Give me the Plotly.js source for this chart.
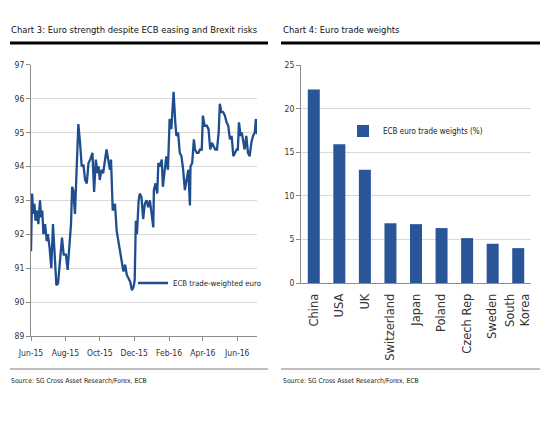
<!DOCTYPE html>
<html>
<head>
<meta charset="utf-8">
<script src="https://cdn.plot.ly/plotly-3.0.1.min.js"></script>
<style>html,body{margin:0;padding:0;background:#fff;}#chart{width:550px;height:423px;}</style>
</head>
<body>
<div id="chart"></div>
<script>
// ---- Chart 3 data: ECB trade-weighted euro ----
const euroDates = [
"2015-06-01","2015-06-03","2015-06-05","2015-06-07","2015-06-09","2015-06-12","2015-06-14","2015-06-17","2015-06-19","2015-06-21",
"2015-06-23","2015-06-26","2015-06-29","2015-07-01","2015-07-04","2015-07-07","2015-07-10","2015-07-13","2015-07-16","2015-07-19",
"2015-07-22","2015-07-26","2015-07-29","2015-08-02","2015-08-05","2015-08-08","2015-08-11","2015-08-13","2015-08-15","2015-08-18",
"2015-08-21","2015-08-24","2015-08-27","2015-08-30","2015-09-02","2015-09-05","2015-09-08","2015-09-11","2015-09-14","2015-09-18",
"2015-09-21","2015-09-24","2015-09-27","2015-09-29","2015-10-01","2015-10-04","2015-10-07","2015-10-10","2015-10-13","2015-10-16",
"2015-10-19","2015-10-21","2015-10-24","2015-10-28","2015-10-31","2015-11-03","2015-11-06","2015-11-09","2015-11-12","2015-11-15",
"2015-11-18","2015-11-21","2015-11-24","2015-11-27","2015-11-30","2015-12-02","2015-12-04","2015-12-06","2015-12-09","2015-12-11",
"2015-12-14","2015-12-17","2015-12-20","2015-12-23","2015-12-26","2015-12-29","2016-01-01","2016-01-04","2016-01-05","2016-01-08",
"2016-01-11","2016-01-13","2016-01-16","2016-01-19","2016-01-21","2016-01-24","2016-01-27","2016-01-30","2016-02-02","2016-02-05",
"2016-02-07","2016-02-09","2016-02-12","2016-02-14","2016-02-17","2016-02-20","2016-02-23","2016-02-26","2016-02-29","2016-03-03",
"2016-03-06","2016-03-09","2016-03-10","2016-03-13","2016-03-16","2016-03-18","2016-03-21","2016-03-24","2016-03-27","2016-03-30",
"2016-04-01","2016-04-04","2016-04-08","2016-04-11","2016-04-14","2016-04-17","2016-04-20","2016-04-23","2016-04-26","2016-04-29",
"2016-05-01","2016-05-04","2016-05-07","2016-05-10","2016-05-13","2016-05-16","2016-05-19","2016-05-22","2016-05-25","2016-05-28",
"2016-05-31","2016-06-02","2016-06-04","2016-06-07","2016-06-09","2016-06-11","2016-06-14","2016-06-17","2016-06-20","2016-06-23",
"2016-06-26","2016-06-29","2016-07-02","2016-07-04","2016-07-06"];
const euroValues = [
91.5,93.2,92.6,92.9,92.4,92.7,92.3,93.0,92.5,92.7,
92.0,92.3,91.8,92.0,91.6,91.0,92.3,91.4,90.5,90.55,
91.1,91.9,91.4,91.4,90.95,91.6,92.3,93.4,93.3,92.6,
93.8,95.25,94.7,94.0,94.05,93.6,93.5,94.1,94.2,94.4,
93.25,94.2,93.8,94.0,93.6,93.9,93.8,94.2,94.5,94.2,
93.9,94.2,92.7,92.9,92.1,91.8,91.5,91.2,90.9,91.1,
90.8,90.7,90.6,90.35,90.45,90.65,92.4,92.0,93.0,93.2,
93.1,92.45,92.9,93.0,92.8,93.0,92.6,92.2,93.3,93.5,
93.2,94.1,94.0,94.2,93.4,93.8,94.3,93.9,95.4,95.1,
95.7,96.2,95.3,94.9,95.0,94.4,94.3,93.9,93.3,93.6,
93.9,92.85,94.0,94.1,94.8,94.5,94.4,94.4,94.5,94.5,
95.5,95.2,95.2,95.1,94.5,94.7,94.6,94.5,94.5,95.0,
95.85,95.6,95.6,95.5,95.3,95.2,94.8,94.9,94.3,94.4,
94.5,94.5,95.3,94.9,95.0,94.8,94.5,94.9,94.4,94.3,
94.7,94.9,95.0,95.4,94.95];

// ---- Chart 4 data: ECB euro trade weights (%) ----
const countries = ["China","USA","UK","Switzerland","Japan","Poland","Czech Rep","Sweden","South<br>Korea"];
const weights = [22.2,15.9,13.0,6.85,6.75,6.3,5.15,4.5,4.0];

const leftTitle = "Chart 3: Euro strength despite ECB easing and Brexit risks";
const rightTitle = "Chart 4: Euro trade weights";
const sourceText = "Source: SG Cross Asset Research/Forex, ECB";

const NARROW = "'Liberation Sans Narrow', 'Arial Narrow', 'DejaVu Sans Condensed', sans-serif";
const WIDE = "'DejaVu Sans', Verdana, sans-serif";
const W = 550, H = 423;
const px = v => v / W;
const py = v => 1 - v / H;

const traces = [
  {
    type: "scatter", mode: "lines",
    x: euroDates, y: euroValues,
    name: "ECB trade-weighted euro",
    line: {color: "#1f4e8f", width: 2.3},
    xaxis: "x", yaxis: "y", legend: "legend"
  },
  {
    type: "bar",
    x: countries, y: weights,
    name: "ECB euro trade weights (%)",
    marker: {color: "#2a5699"},
    xaxis: "x2", yaxis: "y2", legend: "legend2"
  }
];

const axisCommon = {
  showline: true, linecolor: "#8c8c8c", linewidth: 1,
  ticks: "outside", ticklen: 4, tickcolor: "#8c8c8c",
  gridcolor: "#d9d9d9", gridwidth: 1, zeroline: false,
  tickfont: {family: NARROW, size: 8.5, color: "#333"}
};

const layout = {
  width: W, height: H,
  margin: {l: 0, r: 0, t: 0, b: 0},
  paper_bgcolor: "#fff", plot_bgcolor: "#fff",
  showlegend: true,
  xaxis: Object.assign({}, axisCommon, {
    domain: [px(31), px(257)],
    type: "date",
    range: ["2015-06-01", "2016-07-06"],
    tick0: "2015-06-01", dtick: "M2",
    tickformat: "%b-%y",
    showgrid: false,
    ticklabelstandoff: 5,
    anchor: "y"
  }),
  yaxis: Object.assign({}, axisCommon, {
    domain: [py(336), py(64.7)],
    range: [89, 97], dtick: 1,
    showgrid: true,
    anchor: "x"
  }),
  xaxis2: Object.assign({}, axisCommon, {
    domain: [px(301), px(531)],
    type: "category",
    tickangle: -90,
    showgrid: false,
    ticks: "",
    ticklabelstandoff: 5,
    tickfont: {family: WIDE, size: 11.5, color: "#333"},
    anchor: "y2"
  }),
  yaxis2: Object.assign({}, axisCommon, {
    domain: [py(283), py(65)],
    range: [0, 25], dtick: 5,
    showgrid: true,
    anchor: "x2"
  }),
  bargap: 0.53,
  legend: {
    x: px(133), y: py(283), xanchor: "left", yanchor: "middle",
    bgcolor: "rgba(0,0,0,0)",
    font: {family: NARROW, size: 7.8, color: "#222"}
  },
  legend2: {
    x: px(343), y: py(131), xanchor: "left", yanchor: "middle",
    bgcolor: "rgba(0,0,0,0)",
    font: {family: NARROW, size: 8, color: "#222"}
  },
  annotations: [
    {text: leftTitle, xref: "paper", yref: "paper", x: px(9), y: py(30), xanchor: "left", yanchor: "middle",
     showarrow: false, font: {family: NARROW, size: 9.4, color: "#111"}},
    {text: rightTitle, xref: "paper", yref: "paper", x: px(281), y: py(30), xanchor: "left", yanchor: "middle",
     showarrow: false, font: {family: NARROW, size: 9.4, color: "#111"}},
    {text: sourceText, xref: "paper", yref: "paper", x: px(9), y: py(381), xanchor: "left", yanchor: "middle",
     showarrow: false, font: {family: NARROW, size: 6.8, color: "#222"}},
    {text: sourceText, xref: "paper", yref: "paper", x: px(281), y: py(381), xanchor: "left", yanchor: "middle",
     showarrow: false, font: {family: NARROW, size: 6.8, color: "#222"}}
  ],
  shapes: [
    {type: "line", xref: "paper", yref: "paper", x0: px(10), x1: px(268), y0: py(43), y1: py(43), line: {color: "#000", width: 3}},
    {type: "line", xref: "paper", yref: "paper", x0: px(281), x1: px(540), y0: py(43), y1: py(43), line: {color: "#000", width: 3}},
    {type: "line", xref: "paper", yref: "paper", x0: px(10), x1: px(268), y0: py(369), y1: py(369), line: {color: "#7f7f7f", width: 1}},
    {type: "line", xref: "paper", yref: "paper", x0: px(281), x1: px(540), y0: py(369), y1: py(369), line: {color: "#7f7f7f", width: 1}}
  ]
};

Plotly.newPlot("chart", traces, layout, {displayModeBar: false, staticPlot: true});
</script>
</body>
</html>
